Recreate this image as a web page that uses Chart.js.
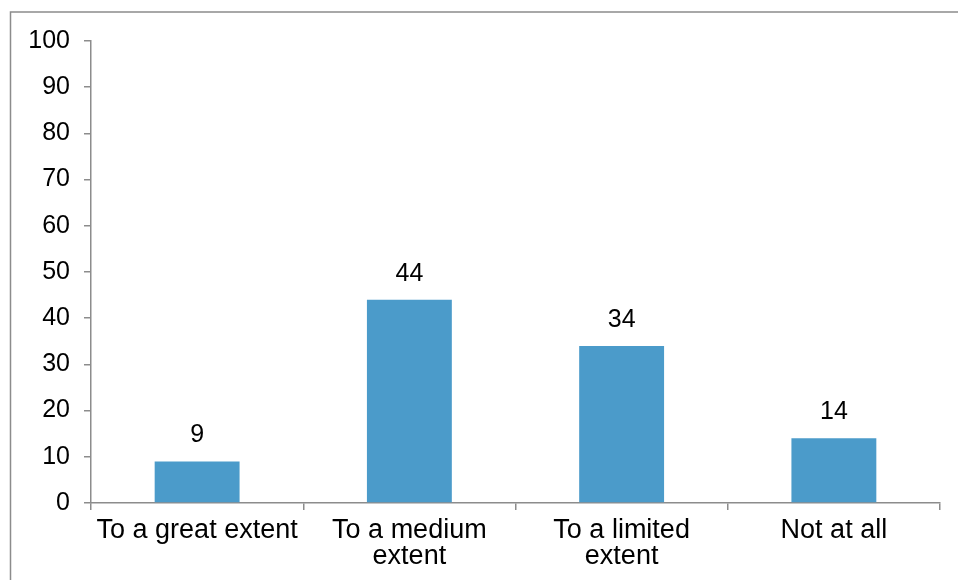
<!DOCTYPE html>
<html>
<head>
<meta charset="utf-8">
<script src="https://cdn.jsdelivr.net/npm/chart.js@4"></script>
<style>
  html, body { margin: 0; padding: 0; background: #fff; }
  #wrap { width: 958px; height: 580px; position: relative; }
</style>
</head>
<body>
<div id="wrap"><canvas id="extentChart" width="958" height="580"></canvas></div>
<script>
const categories = ['To a great extent', ['To a medium', 'extent'], ['To a limited', 'extent'], 'Not at all'];
const shares = [9, 44, 34, 14];
const yTicks = [0, 10, 20, 30, 40, 50, 60, 70, 80, 90, 100];

const FONT = '"Liberation Sans", Arial, Helvetica, sans-serif';
const LINE = '#8c8c8c';

// value above each bar
const valueLabels = {
    id: 'valueLabels',
    afterDatasetsDraw(chart) {
        const ctx = chart.ctx;
        const meta = chart.getDatasetMeta(0);
        ctx.save();
        ctx.font = '25px ' + FONT;
        ctx.fillStyle = '#000';
        ctx.textAlign = 'center';
        ctx.textBaseline = 'alphabetic';
        meta.data.forEach(function(bar, i) {
            ctx.fillText(String(shares[i]), bar.x, bar.y - 19);
        });
        ctx.restore();
    }
};

// thin frame round the plot (left and top edges)
const frame = {
    id: 'frame',
    beforeDraw(chart) {
        const ctx = chart.ctx;
        ctx.save();
        ctx.strokeStyle = LINE;
        ctx.lineWidth = 1.5;
        ctx.beginPath();
        ctx.moveTo(10.5, chart.height);
        ctx.lineTo(10.5, 12);
        ctx.lineTo(chart.width, 12);
        ctx.stroke();
        ctx.restore();
    }
};

new Chart(document.getElementById('extentChart'), {
    type: 'bar',
    data: {
        labels: categories,
        datasets: [{
            data: shares,
            backgroundColor: '#4b9bca',
            borderWidth: 0,
            categoryPercentage: 0.4,
            barPercentage: 1.0
        }]
    },
    options: {
        responsive: false,
        animation: false,
        devicePixelRatio: 1,
        layout: { padding: { top: 41, right: 18, left: 0, bottom: 0 } },
        plugins: {
            legend: { display: false },
            tooltip: { enabled: false }
        },
        scales: {
            x: {
                grid: { drawOnChartArea: false, drawTicks: true, tickLength: 7, color: LINE, lineWidth: 1.5 },
                border: { color: LINE, width: 1.5 },
                ticks: { color: '#000', font: { family: FONT, size: 27, lineHeight: 0.97 }, padding: 7, maxRotation: 0, autoSkip: false },
                afterFit(scale) { scale.height = 77; }
            },
            y: {
                min: 0,
                max: 100,
                afterBuildTicks(scale) { scale.ticks = yTicks.map(v => ({ value: v })); },
                grid: { drawOnChartArea: false, drawTicks: true, tickLength: 7, color: LINE, lineWidth: 1.5 },
                border: { color: LINE, width: 1.5 },
                ticks: { color: '#000', font: { family: FONT, size: 25 }, padding: 14, autoSkip: false },
                afterFit(scale) { scale.width = 91; }
            }
        }
    },
    plugins: [frame, valueLabels]
});
</script>
</body>
</html>
